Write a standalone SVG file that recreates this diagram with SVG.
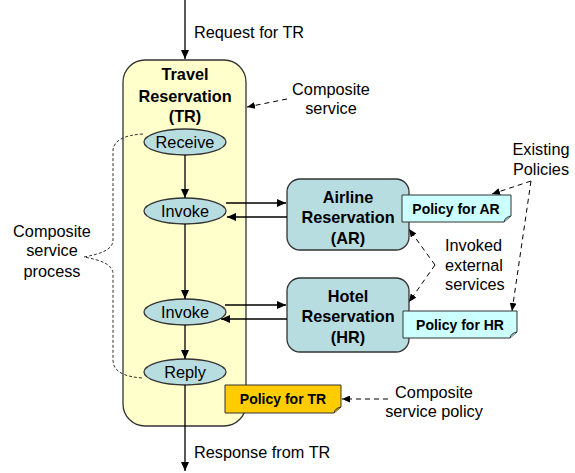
<svg xmlns="http://www.w3.org/2000/svg" width="575" height="473" viewBox="0 0 575 473">
<defs>
<style>
.t{font-family:"Liberation Sans",Arial,sans-serif;font-size:16.3px;fill:#000}
.b{font-family:"Liberation Sans",Arial,sans-serif;font-size:16.3px;font-weight:bold;fill:#000}
.p{font-family:"Liberation Sans",Arial,sans-serif;font-size:14px;font-weight:bold;fill:#000}
.ln{stroke:#000;stroke-width:1.3;fill:none}
.ds{stroke:#000;stroke-width:1;fill:none;stroke-dasharray:5,4}
.br{stroke:#333;stroke-width:1;fill:none;stroke-dasharray:3,2}
.svc{fill:#b8dde1;stroke:#333;stroke-width:1.3}
.el{fill:#b8dde1;stroke:#333;stroke-width:1.3}
</style>
<marker id="ah" markerWidth="10" markerHeight="8" refX="9" refY="4" orient="auto" markerUnits="userSpaceOnUse">
<path d="M0,0 L9,4 L0,8 Z" fill="#000"/>
</marker>
<marker id="ahs" markerWidth="9" markerHeight="7" refX="8" refY="3.5" orient="auto" markerUnits="userSpaceOnUse">
<path d="M0,0 L8,3.5 L0,7 Z" fill="#000"/>
</marker>
</defs>

<g id="TR">
<rect x="123" y="60" width="123" height="366" rx="22" ry="22" fill="#ffffcc" stroke="#333" stroke-width="1.3"/>
<text class="b" x="185" y="80" text-anchor="middle">Travel</text>
<text class="b" x="185" y="102" text-anchor="middle">Reservation</text>
<text class="b" x="185" y="122" text-anchor="middle">(TR)</text>
</g>

<g id="receive">
<ellipse class="el" cx="185" cy="142" rx="41" ry="13"/>
<text class="t" x="185" y="148" text-anchor="middle">Receive</text>
</g>
<g id="invoke1">
<ellipse class="el" cx="185" cy="211" rx="41" ry="13"/>
<text class="t" x="185" y="217" text-anchor="middle">Invoke</text>
</g>
<g id="invoke2">
<ellipse class="el" cx="185" cy="312" rx="41" ry="13"/>
<text class="t" x="185" y="318" text-anchor="middle">Invoke</text>
</g>
<g id="reply">
<ellipse class="el" cx="185" cy="372" rx="41" ry="13"/>
<text class="t" x="185" y="378" text-anchor="middle">Reply</text>
</g>

<g id="AR">
<rect class="svc" x="287" y="179" width="122" height="71" rx="13" ry="13"/>
<text class="b" x="348" y="203" text-anchor="middle">Airline</text>
<text class="b" x="348" y="223" text-anchor="middle">Reservation</text>
<text class="b" x="348" y="244" text-anchor="middle">(AR)</text>
</g>
<g id="HR">
<rect class="svc" x="287" y="278" width="122" height="74" rx="13" ry="13"/>
<text class="b" x="348" y="302" text-anchor="middle">Hotel</text>
<text class="b" x="348" y="322" text-anchor="middle">Reservation</text>
<text class="b" x="348" y="343" text-anchor="middle">(HR)</text>
</g>

<g id="policyAR">
<path d="M402,195 H511 V216 L504,222 H402 Z" fill="#ccffff" stroke="#333" stroke-width="1"/>
<path d="M504,222 Q505,217 511,216" fill="#9ccccc" stroke="#333" stroke-width="1"/>
<text class="p" x="456" y="214" text-anchor="middle">Policy for AR</text>
</g>
<g id="policyHR">
<path d="M403,311 H517 V332 L510,338 H403 Z" fill="#ccffff" stroke="#333" stroke-width="1"/>
<path d="M510,338 Q511,333 517,332" fill="#9ccccc" stroke="#333" stroke-width="1"/>
<text class="p" x="460" y="330" text-anchor="middle">Policy for HR</text>
</g>
<g id="policyTR">
<path d="M225,385 H341 V407 L334,413 H225 Z" fill="#ffcc00" stroke="#333" stroke-width="1"/>
<path d="M334,413 Q335,408 341,407" fill="#cc9900" stroke="#333" stroke-width="1"/>
<text class="p" x="283" y="404" text-anchor="middle">Policy for TR</text>
</g>

<g id="labels">
<text class="t" x="194" y="38">Request for TR</text>
<text class="t" x="194" y="458">Response from TR</text>
<text class="t" x="331" y="95" text-anchor="middle">Composite</text>
<text class="t" x="331" y="114" text-anchor="middle">service</text>
<text class="t" x="52" y="237" text-anchor="middle">Composite</text>
<text class="t" x="52" y="256" text-anchor="middle">service</text>
<text class="t" x="52" y="277" text-anchor="middle">process</text>
<text class="t" x="541" y="155" text-anchor="middle">Existing</text>
<text class="t" x="541" y="175" text-anchor="middle">Policies</text>
<text class="t" x="445" y="251">Invoked</text>
<text class="t" x="445" y="271">external</text>
<text class="t" x="445" y="290">services</text>
<text class="t" x="434" y="398" text-anchor="middle">Composite</text>
<text class="t" x="434" y="417" text-anchor="middle">service policy</text>
</g>

<g id="connectors">
<line class="ln" x1="185" y1="0" x2="185" y2="59" marker-end="url(#ah)"/>
<line class="ln" x1="185" y1="155" x2="185" y2="198" marker-end="url(#ah)"/>
<line class="ln" x1="185" y1="224" x2="185" y2="299" marker-end="url(#ah)"/>
<line class="ln" x1="185" y1="325" x2="185" y2="359" marker-end="url(#ah)"/>
<line class="ln" x1="185" y1="385" x2="185" y2="471" marker-end="url(#ah)"/>
<line class="ln" x1="226" y1="203" x2="286" y2="203" marker-end="url(#ah)"/>
<line class="ln" x1="287" y1="217" x2="227" y2="217" marker-end="url(#ah)"/>
<line class="ln" x1="225" y1="305" x2="286" y2="305" marker-end="url(#ah)"/>
<line class="ln" x1="287" y1="319" x2="221" y2="319" marker-end="url(#ah)"/>
<path class="ds" d="M287,99 L247,107" marker-end="url(#ahs)"/>
<path class="ds" d="M388,399 L342,399" marker-end="url(#ahs)"/>
<path class="ds" d="M531,181 L492,194" marker-end="url(#ahs)"/>
<path class="ds" d="M531,181 L512,311" marker-end="url(#ahs)"/>
<path class="ds" d="M435,265 L409,229" marker-end="url(#ahs)"/>
<path class="ds" d="M435,265 L409,302" marker-end="url(#ahs)"/>
<path class="br" d="M143,134 C125,135 114,140 113,150 L113,240 C113,250 100,254 84,257 C100,260 113,264 113,274 L113,360 C113,372 125,377 143,378"/>
</g>
</svg>
